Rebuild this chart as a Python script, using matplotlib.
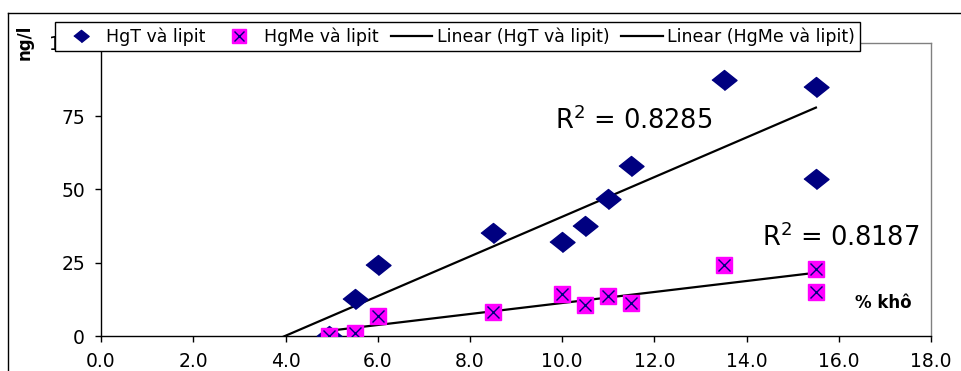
import numpy as np
import matplotlib
matplotlib.use("Agg")
import matplotlib.pyplot as plt
from matplotlib.lines import Line2D
from matplotlib.legend_handler import HandlerTuple

plt.rcParams['font.family'] = ['DejaVu Sans']

# % khô (dry weight) and concentrations, ng/l
x_hgt = [4.95, 5.5, 6.0, 8.5, 10.0, 10.5, 11.0, 11.5, 13.5, 15.5, 15.5]
y_hgt = [0.1, 12.5, 24.2, 35.2, 32.0, 37.7, 46.9, 57.9, 87.5, 85.0, 53.5]
x_hgme = [4.95, 5.5, 6.0, 8.5, 10.0, 10.5, 11.0, 11.5, 13.5, 15.5, 15.5]
y_hgme = [0.1, 1.1, 6.9, 8.3, 14.2, 10.6, 13.6, 11.1, 24.4, 22.9, 14.9]

# Excel linear trendlines: (slope, intercept, x start, x end)
trend_hgt = (6.77, -27.0, 0.0, 15.5)
trend_hgme = (1.877, -7.5, 4.95, 15.5)
r2_labels = ['0.8285', '0.8187']

xticks = np.arange(0, 18.1, 2)
yticks = [0, 25, 50, 75, 100]

navy = '#000080'
magenta = '#ff00ff'
diamond = [(-1, 0), (0, 0.8), (1, 0), (0, -0.8)]

fig = plt.figure(figsize=(9.62, 3.71), dpi=100)
ax = fig.add_axes([0.105, 0.0943, 0.863, 0.790])

# HgT
ax.plot(x_hgt, y_hgt, linestyle='none', marker=diamond, ms=18, color=navy, mec=navy, zorder=3)
# HgMe: magenta square with navy cross
ax.plot(x_hgme, y_hgme, linestyle='none', marker='s', ms=11, color=magenta, mec=magenta, zorder=3)
ax.plot(x_hgme, y_hgme, linestyle='none', marker='x', ms=8, color=navy, mew=1.0, zorder=4)

for slope, icpt, x0, x1 in [trend_hgt, trend_hgme]:
    xs = np.array([x0, x1])
    ax.plot(xs, icpt + slope * xs, color='black', lw=1.6, zorder=2)

ax.text(9.85, 70.6, r'R$^2$ = ' + r2_labels[0], fontsize=18.5, va='baseline', ha='left')
ax.text(14.33, 30.8, r'R$^2$ = ' + r2_labels[1], fontsize=18.5, va='baseline', ha='left')
ax.text(16.35, 9.5, '% khô', fontsize=12, fontweight='bold', va='baseline', ha='left')

ax.set_xlim(0, 18)
ax.set_ylim(0, 100)
ax.set_xticks(xticks)
ax.set_xticklabels([f'{v:.1f}' for v in xticks])
ax.set_yticks(yticks)
ax.tick_params(axis='both', direction='out', length=4.5, width=1, labelsize=13.5, color='black')
ax.tick_params(axis='x', pad=7)
ax.tick_params(axis='y', pad=7)
for s in ['top', 'right']:
    ax.spines[s].set_color('#808080')
    ax.spines[s].set_linewidth(1)
for s in ['left', 'bottom']:
    ax.spines[s].set_color('black')
    ax.spines[s].set_linewidth(1)

fig.text(0.026, 0.885, 'ng/l', rotation=90, fontsize=12, fontweight='bold', ha='center', va='center')

# outer frame
fig.add_artist(Line2D([8 / 962, 1.0], [1 - 13 / 371] * 2, color='black', lw=1, transform=fig.transFigure))
fig.add_artist(Line2D([8 / 962] * 2, [0, 1 - 13 / 371], color='black', lw=1, transform=fig.transFigure))

h1 = Line2D([], [], linestyle='none', marker=diamond, ms=11, color=navy)
h2a = Line2D([], [], linestyle='none', marker='s', ms=10, color=magenta)
h2b = Line2D([], [], linestyle='none', marker='x', ms=7, color=navy, mew=1.0)
h3 = Line2D([], [], color='black', lw=1.6)
h4 = Line2D([], [], color='black', lw=1.6)
leg = fig.legend([h1, (h2a, h2b), h3, h4],
                 ['HgT và lipit', 'HgMe và lipit', 'Linear (HgT và lipit)', 'Linear (HgMe và lipit)'],
                 handler_map={tuple: HandlerTuple(ndivide=1, pad=0)},
                 ncol=4, loc='upper left', bbox_to_anchor=(55 / 962, 1 - 22 / 371),
                 fontsize=12.5, frameon=True, fancybox=False, edgecolor='black', framealpha=1,
                 borderpad=0.3, handlelength=2.4, handletextpad=0.25, columnspacing=0.7,
                 borderaxespad=0)
leg.get_frame().set_linewidth(1)
leg.set_zorder(10)

fig.savefig('out.png', dpi=100)
